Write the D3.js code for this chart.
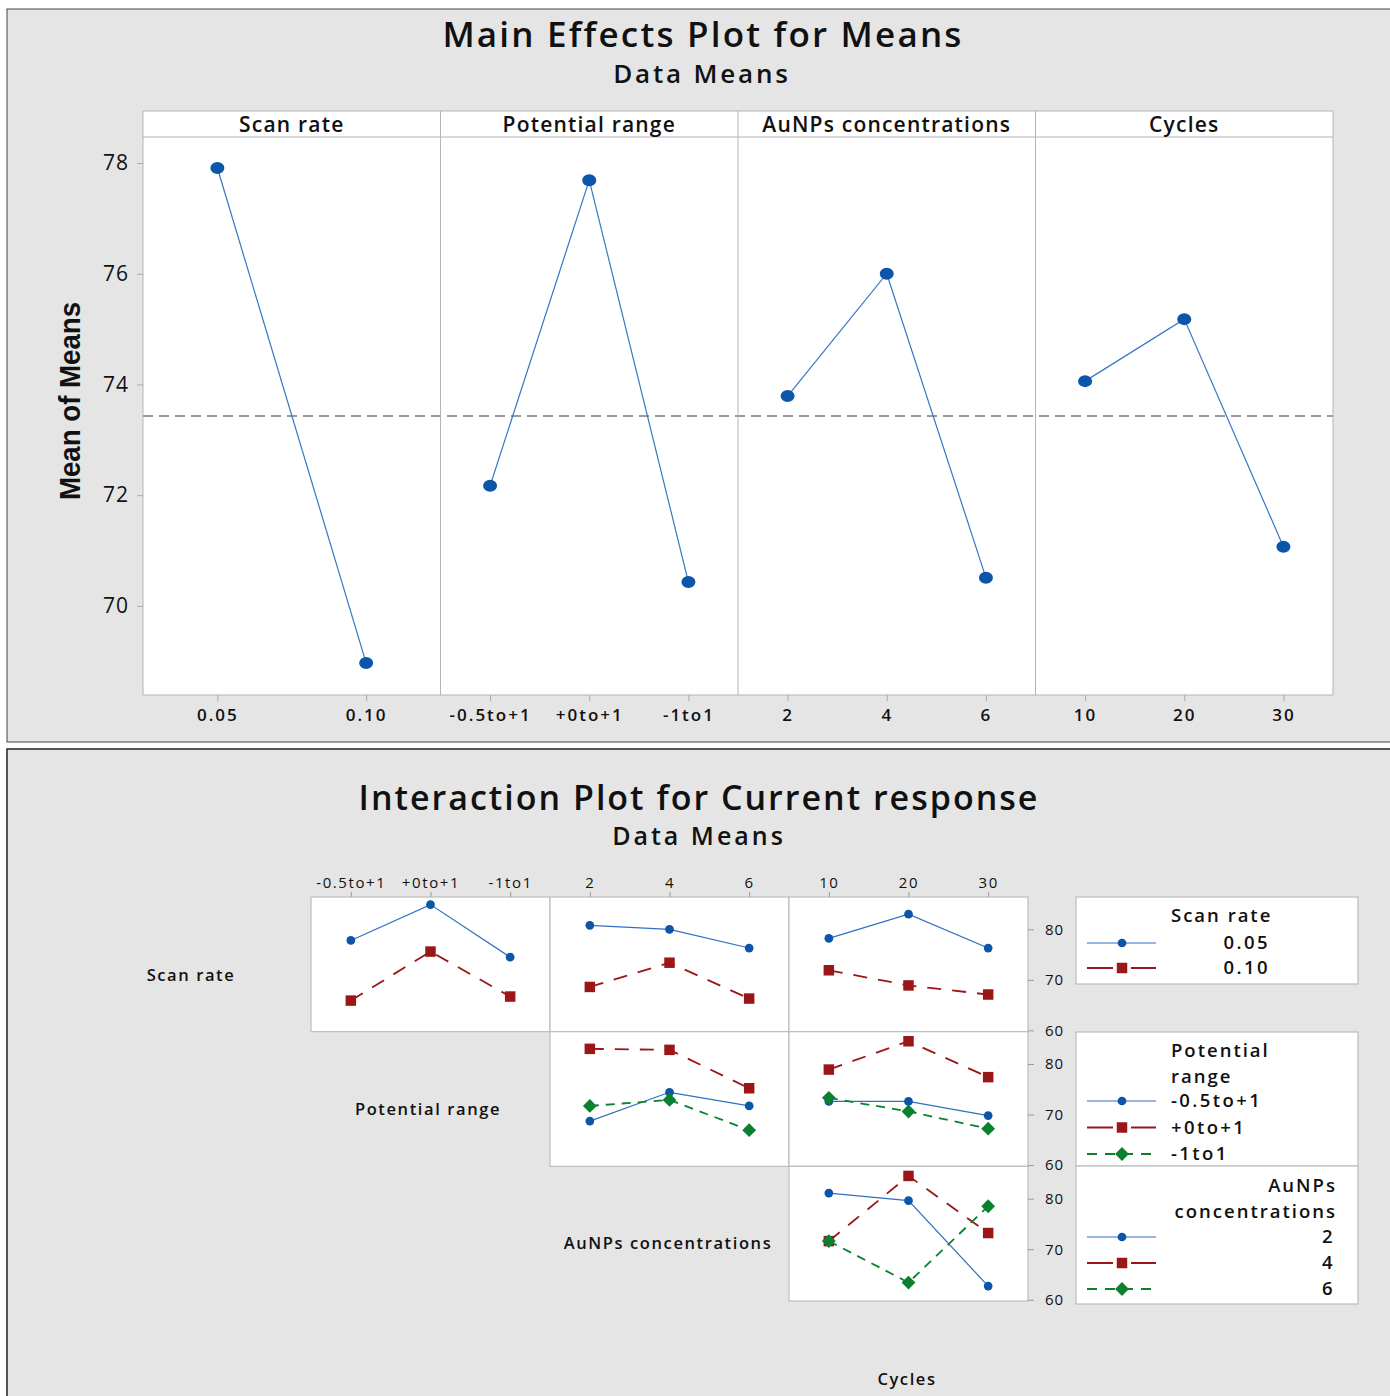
<!DOCTYPE html>
<meta charset="utf-8">
<script src="https://d3js.org/d3.v7.min.js"></script>
<style>
  body{margin:0;background:#fff;}
  text{font-family:"Open Sans","Noto Sans",sans-serif;fill:#111;}
</style>
<div id="chart"></div>
<script>
// ---- data ----
const factors = ["Scan rate", "Potential range", "AuNPs concentrations", "Cycles"];
const scanLevels = ["0.05", "0.10"];
const potentialLevels = ["-0.5to+1", "+0to+1", "-1to1"];
const aunpLevels = ["2", "4", "6"];
const cycleLevels = ["10", "20", "30"];

// main effects (means)
const meanScan = [77.91, 68.97];
const meanPotential = [72.17, 77.69, 70.43];
const meanAunp = [73.79, 76.0, 70.51];
const meanCycles = [74.06, 75.18, 71.07];
const grandMean = 73.43;
const mainTicks = [70, 72, 74, 76, 78];

// interaction means: one row per trace level, one value per x level
const scanByPotential = [[77.8, 84.9, 74.5], [65.9, 75.6, 66.7]];
const scanByAunp = [[80.8, 80.0, 76.3], [68.6, 73.4, 66.3]];
const scanByCycles = [[78.2, 83.0, 76.3], [71.9, 68.9, 67.1]];
const potentialByAunp = [[68.7, 74.4, 71.7], [83.0, 82.8, 75.2], [71.7, 72.9, 66.9]];
const potentialByCycles = [[72.6, 72.6, 69.8], [78.9, 84.5, 77.4], [73.3, 70.6, 67.2]];
const aunpByCycles = [[81.1, 79.6, 62.7], [71.6, 84.5, 73.2], [71.6, 63.4, 78.5]];
const interTicks = [60, 70, 80];

const W = 1390, H = 1396;
const svg = d3.select("#chart").append("svg")
    .attr("width", W).attr("height", H);

const blueLine = "#3677c4", blueDot = "#0b56a8";
// diamond = square turned 45deg
const styles = [
    {line: "#2f6fbf", fill: "#0b56a8", dash: null, shape: d3.symbolCircle, size: 60, rot: 0},
    {line: "#9b1616", fill: "#9b1616", dash: "14,11", shape: d3.symbolSquare, size: 110, rot: 0},
    {line: "#0b8030", fill: "#0b8030", dash: "9,7", shape: d3.symbolSquare, size: 95, rot: 45}
];

// ================= Main effects plot =================
svg.append("rect").attr("x", 7).attr("y", 9).attr("width", W).attr("height", 733)
    .attr("fill", "#e5e5e5").attr("stroke", "#444");

svg.append("text").attr("x", 703).attr("y", 47).attr("text-anchor", "middle")
    .style("font-size", "35px").style("font-weight", 600).style("letter-spacing", "2.2px")
    .text("Main Effects Plot for Means");
svg.append("text").attr("x", 702).attr("y", 83).attr("text-anchor", "middle")
    .style("font-size", "26px").style("font-weight", 600).style("letter-spacing", "2.8px")
    .text("Data Means");

const mLeft = 143, mRight = 1333, mHead = 111, mTop = 137, mBottom = 695;
const mainSets = [
    {levels: scanLevels, vals: meanScan},
    {levels: potentialLevels, vals: meanPotential},
    {levels: aunpLevels, vals: meanAunp},
    {levels: cycleLevels, vals: meanCycles}
];
const panelX = d3.scaleBand().domain(factors).range([mLeft, mRight]);
const yMain = d3.scaleLinear().domain([68.39, 78.47]).range([mBottom, mTop]);

const gm = svg.append("g");
gm.append("rect").attr("x", mLeft).attr("y", mHead).attr("width", mRight - mLeft)
    .attr("height", mBottom - mHead).attr("fill", "#fff").attr("stroke", "#b5b5b5");
gm.append("line").attr("x1", mLeft).attr("x2", mRight).attr("y1", mTop).attr("y2", mTop)
    .attr("stroke", "#b5b5b5");

// y axis
const yAxisM = gm.append("g").attr("transform", `translate(${mLeft},0)`)
    .call(d3.axisLeft(yMain).tickValues(mainTicks).tickSize(6).tickPadding(8).tickFormat(d3.format("d")));
yAxisM.select(".domain").remove();
yAxisM.selectAll(".tick line").attr("stroke", "#aaa");
yAxisM.selectAll("text").style("font-size", "21px").style("font-family", "Open Sans")
    .style("letter-spacing", "1px").attr("fill", "#111");

gm.append("text").attr("transform", "translate(80,401) rotate(-90)")
    .attr("text-anchor", "middle").attr("textLength", 198).attr("lengthAdjust", "spacingAndGlyphs")
    .style("font-family", "Liberation Sans, Arial").style("font-size", "30px").style("font-weight", 700)
    .text("Mean of Means");

// grand mean reference line
gm.append("line").attr("x1", mLeft).attr("x2", mRight)
    .attr("y1", yMain(grandMean)).attr("y2", yMain(grandMean))
    .attr("stroke", "#9a9a9a").attr("stroke-width", 2).attr("stroke-dasharray", "10,6");

mainSets.forEach((s, i) => {
    const x0 = panelX(factors[i]);
    const x = d3.scalePoint().domain(s.levels).range([x0, x0 + panelX.bandwidth()]).padding(0.5);
    if (i > 0) gm.append("line").attr("x1", x0).attr("x2", x0).attr("y1", mHead).attr("y2", mBottom)
        .attr("stroke", "#b5b5b5");
    gm.append("text").attr("x", x0 + panelX.bandwidth() / 2).attr("y", 132).attr("text-anchor", "middle")
        .style("font-size", "21px").style("font-weight", 600).style("letter-spacing", "1.2px")
        .text(factors[i]);
    const ax = gm.append("g").attr("transform", `translate(0,${mBottom})`)
        .call(d3.axisBottom(x).tickSize(6).tickPadding(8));
    ax.select(".domain").remove();
    ax.selectAll(".tick line").attr("stroke", "#aaa");
    ax.selectAll("text").style("font-size", "17px").style("font-family", "Open Sans")
        .style("font-weight", 600).style("letter-spacing", "2px").attr("fill", "#111");
    const pts = s.levels.map((l, j) => [x(l), yMain(s.vals[j])]);
    gm.append("path").attr("d", d3.line()(pts)).attr("fill", "none")
        .attr("stroke", blueLine).attr("stroke-width", 1.2);
    gm.selectAll(null).data(pts).join("ellipse")
        .attr("cx", d => d[0]).attr("cy", d => d[1]).attr("rx", 7).attr("ry", 6)
        .attr("fill", blueDot);
});

// ================= Interaction plot =================
svg.append("rect").attr("x", 7).attr("y", 749).attr("width", W).attr("height", 700)
    .attr("fill", "#e5e5e5").attr("stroke", "#222").attr("stroke-width", 1.5);

svg.append("text").attr("x", 699).attr("y", 810).attr("text-anchor", "middle")
    .style("font-size", "34px").style("font-weight", 600).style("letter-spacing", "2px")
    .text("Interaction Plot for Current response");
svg.append("text").attr("x", 699).attr("y", 845).attr("text-anchor", "middle")
    .style("font-size", "25px").style("font-weight", 600).style("letter-spacing", "3px")
    .text("Data Means");

const gLeft = 311, gRight = 1028, gTop = 897, gBottom = 1301;
const colX = d3.scaleBand().domain([1, 2, 3]).range([gLeft, gRight]);
const rowY = d3.scaleBand().domain([0, 1, 2]).range([gTop, gBottom]);
const levelSets = [scanLevels, potentialLevels, aunpLevels, cycleLevels];

const cells = [
    {row: 0, col: 1, data: scanByPotential},
    {row: 0, col: 2, data: scanByAunp},
    {row: 0, col: 3, data: scanByCycles},
    {row: 1, col: 2, data: potentialByAunp},
    {row: 1, col: 3, data: potentialByCycles},
    {row: 2, col: 3, data: aunpByCycles}
];

const gi = svg.append("g");
cells.forEach(c => {
    const x0 = colX(c.col), y0 = rowY(c.row);
    const cw = colX.bandwidth(), ch = rowY.bandwidth();
    gi.append("rect").attr("x", x0).attr("y", y0).attr("width", cw).attr("height", ch)
        .attr("fill", "#fff").attr("stroke", "#bdbdbd").attr("stroke-width", 1.2);
    const x = d3.scalePoint().domain(levelSets[c.col]).range([x0, x0 + cw]).padding(0.5);
    const y = d3.scaleLinear().domain([59.75, 86.4]).range([y0 + ch, y0]);
    c.data.forEach((vals, k) => {
        const st = styles[k];
        const pts = levelSets[c.col].map((l, j) => [x(l), y(vals[j])]);
        gi.append("path").attr("d", d3.line()(pts)).attr("fill", "none")
            .attr("stroke", st.line).attr("stroke-width", k === 0 ? 1.2 : 1.8)
            .attr("stroke-dasharray", st.dash);
        gi.selectAll(null).data(pts).join("path")
            .attr("transform", d => `translate(${d[0]},${d[1]}) rotate(${st.rot})`)
            .attr("d", d3.symbol().type(st.shape).size(st.size))
            .attr("fill", st.fill);
    });
    // top axis for first row
    if (c.row === 0) {
        const ax = gi.append("g").attr("transform", `translate(0,${gTop})`)
            .call(d3.axisTop(x).tickSize(5).tickPadding(4));
        ax.select(".domain").remove();
        ax.selectAll(".tick line").attr("stroke", "#999");
        ax.selectAll("text").style("font-size", "15px").style("font-family", "Open Sans")
            .style("letter-spacing", "1.6px").attr("fill", "#111");
    }
    // right axis for last column
    if (c.col === 3) {
        const ay = gi.append("g").attr("transform", `translate(${gRight},0)`)
            .call(d3.axisRight(y).tickValues(interTicks).tickSize(6).tickPadding(11));
        ay.select(".domain").remove();
        ay.selectAll(".tick line").attr("stroke", "#999");
        ay.selectAll("text").style("font-size", "15px").style("font-family", "Open Sans")
            .style("letter-spacing", "0.8px").attr("fill", "#111");
    }
});

// diagonal factor labels
const diagLabels = [
    {x: 191, y: 981, t: factors[0]},
    {x: 428, y: 1115, t: factors[1]},
    {x: 668, y: 1249, t: factors[2]},
    {x: 907, y: 1385, t: factors[3]}
];
gi.selectAll(null).data(diagLabels).join("text")
    .attr("x", d => d.x).attr("y", d => d.y).attr("text-anchor", "middle")
    .style("font-size", "16.5px").style("font-weight", 600).style("letter-spacing", "1.6px")
    .text(d => d.t);

// legends
const legends = [
    {y0: 897, y1: 984, title: ["Scan rate"], titleX: 1171, anchor: "start",
     items: scanLevels, itemX: 1270, itemAnchor: "end", titleY: 922, rowY: 949, step: 25},
    {y0: 1032, y1: 1166, title: ["Potential", "range"], titleX: 1171, anchor: "start",
     items: potentialLevels, itemX: 1171, itemAnchor: "start", titleY: 1057, rowY: 1107, step: 26.5},
    {y0: 1166, y1: 1304, title: ["AuNPs", "concentrations"], titleX: 1337, anchor: "end",
     items: aunpLevels, itemX: 1335, itemAnchor: "end", titleY: 1192, rowY: 1243, step: 26}
];
legends.forEach(L => {
    const g = svg.append("g");
    g.append("rect").attr("x", 1076).attr("y", L.y0).attr("width", 282).attr("height", L.y1 - L.y0)
        .attr("fill", "#fff").attr("stroke", "#bdbdbd").attr("stroke-width", 1.2);
    L.title.forEach((t, i) => g.append("text").attr("x", L.titleX).attr("y", L.titleY + i * 26)
        .attr("text-anchor", L.anchor).style("font-size", "18.5px").style("font-weight", 600)
        .style("letter-spacing", "2px").text(t));
    L.items.forEach((it, k) => {
        const st = styles[k];
        const yy = L.rowY + k * L.step;
        g.append("line").attr("x1", 1087).attr("x2", 1156).attr("y1", yy - 6).attr("y2", yy - 6)
            .attr("stroke", st.line).attr("stroke-width", k === 0 ? 1.2 : 1.8)
            .attr("stroke-dasharray", k === 1 ? "26,18" : (k === 2 ? "10,8" : null));
        g.append("path").attr("transform", `translate(1122,${yy - 6}) rotate(${st.rot})`)
            .attr("d", d3.symbol().type(st.shape).size(st.size)).attr("fill", st.fill);
        g.append("text").attr("x", L.itemX).attr("y", yy).attr("text-anchor", L.itemAnchor)
            .style("font-size", "18.5px").style("font-weight", 600).style("letter-spacing", "2.4px")
            .text(it);
    });
});
</script>
